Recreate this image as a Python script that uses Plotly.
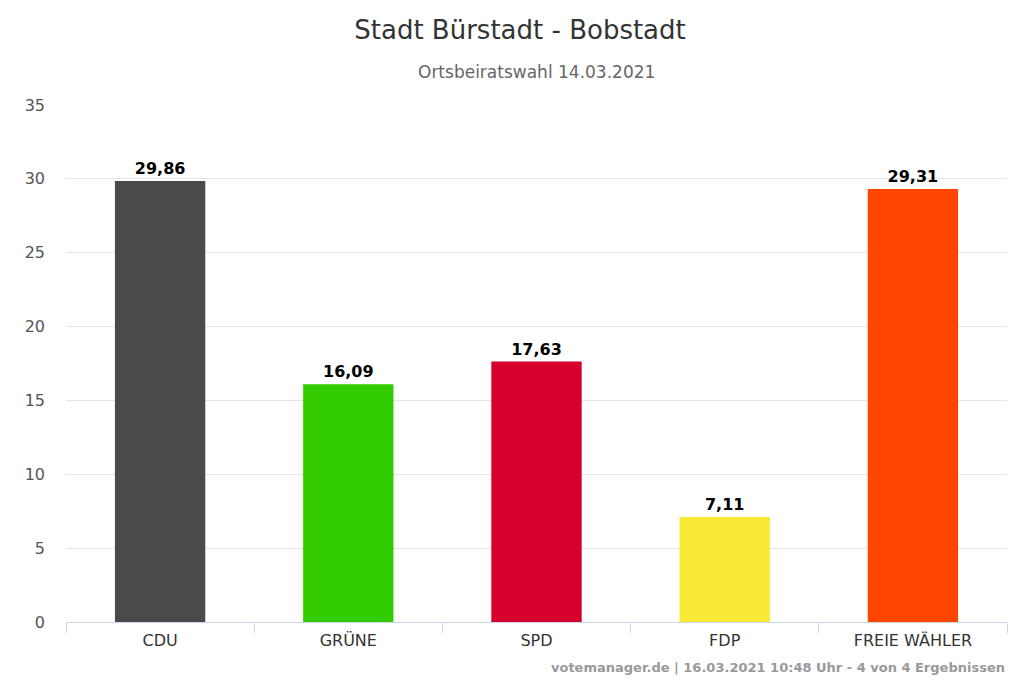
import plotly.graph_objects as go

parties = ["CDU", "GRÜNE", "SPD", "FDP", "FREIE WÄHLER"]
values = [29.86, 16.09, 17.63, 7.11, 29.31]
colors = ["#4a4a4a", "#33cc00", "#d5002b", "#f9e934", "#ff4500"]
labels = [f"<b>{v:.2f}</b>".replace(".", ",") for v in values]

PH = 517
fig = go.Figure(go.Bar(
    x=parties, y=values, marker_color=colors, marker_line_width=0,
    text=labels, textposition="outside", cliponaxis=False,
    textfont=dict(family="DejaVu Sans", size=16, color="#000000"),
))
fig.update_layout(
    width=1024, height=683, plot_bgcolor="white", paper_bgcolor="white",
    margin=dict(l=58, r=25, t=97, b=69),
    bargap=0.52, showlegend=False,
    font=dict(family="DejaVu Sans", color="#555555"),
    title=dict(text="Stadt Bürstadt - Bobstadt", x=0.5, xanchor="center", y=1 - 22 / 683, yanchor="middle",
               font=dict(size=26, color="#333333")),
    annotations=[
        dict(text="Ortsbeiratswahl 14.03.2021", x=0.5, xref="paper", y=1.0 + (97 - 64) / PH, yref="paper",
             yanchor="middle", showarrow=False, font=dict(size=17, color="#666666")),
        dict(text="<b>votemanager.de | 16.03.2021 10:48 Uhr - 4 von 4 Ergebnissen</b>",
             x=1.0, xanchor="right", xref="paper", y=-(659 - 614) / PH, yref="paper", yanchor="middle",
             showarrow=False, font=dict(size=13, color="#999999")),
    ],
)
fig.update_yaxes(range=[0, 35], dtick=5, gridcolor="#e6e6e6", zeroline=False,
                 tickfont=dict(size=16, color="#555555"), ticklabelstandoff=20, showline=False)
fig.update_xaxes(showline=True, linecolor="#ccd6eb", ticks="outside", tickson="boundaries",
                 ticklen=10, tickcolor="#ccd6eb", ticklabelstandoff=4,
                 tickfont=dict(size=16, color="#333333"))
fig.write_html("out.html")
